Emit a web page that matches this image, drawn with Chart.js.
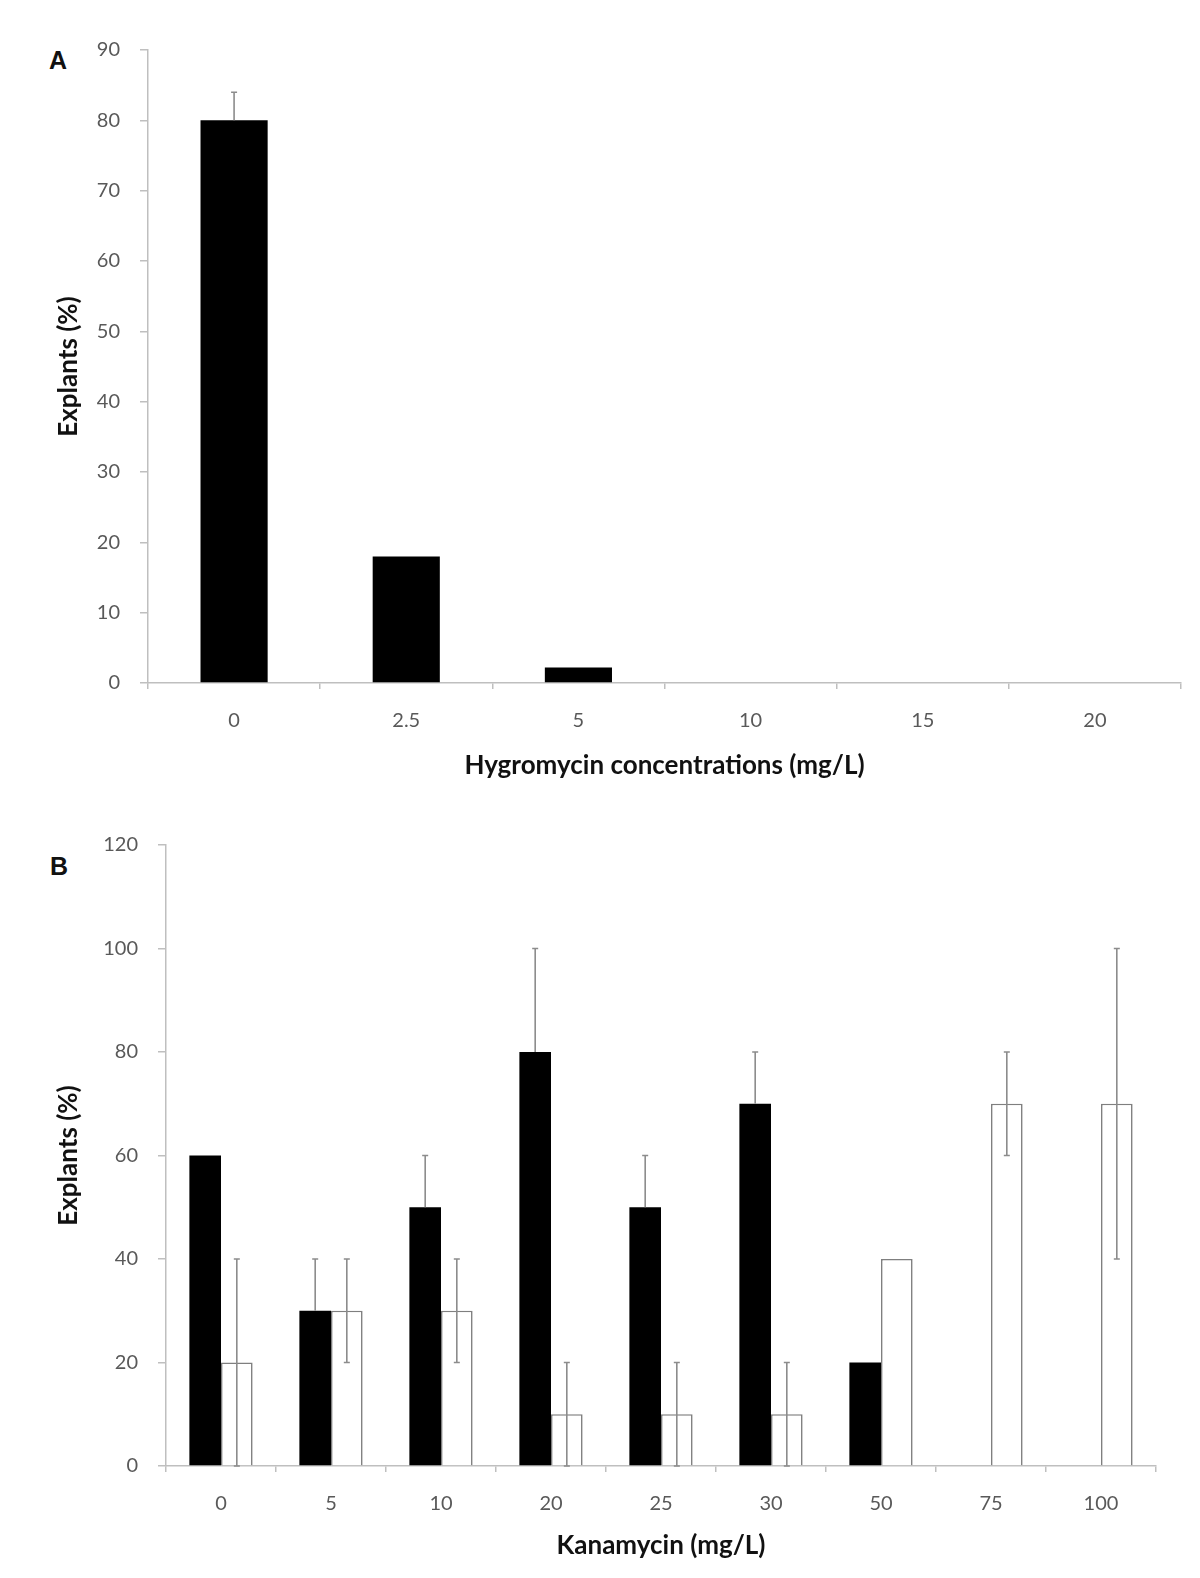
<!DOCTYPE html>
<html>
<head>
<meta charset="utf-8">
<script src="https://cdn.jsdelivr.net/npm/chart.js@4.4.1/dist/chart.umd.min.js"></script>
<style>
  body { margin: 0; background: #fff; width: 1200px; height: 1578px; position: relative; overflow: hidden; }
  .panel { position: absolute; left: 0; width: 1200px; }
  .tag { position: absolute; font-family: "Liberation Sans", Arial, sans-serif; font-weight: bold; font-size: 25px; color: #111; }
</style>
</head>
<body>
<div class="tag" style="left:49px;top:46px;">A</div>
<div class="tag" style="left:50px;top:852px;">B</div>
<div class="panel" style="top:0;height:800px;"><canvas id="chartA" width="1200" height="800"></canvas></div>
<div class="panel" style="top:800px;height:778px;"><canvas id="chartB" width="1200" height="778"></canvas></div>
<script>
// panel A - hygromycin
const hygLabels = ['0', '2.5', '5', '10', '15', '20'];
const hygValues = [80, 18, 2.2, 0, 0, 0];
const hygErrors = [4, 0, 0, 0, 0, 0];

// panel B - kanamycin, two series (black / white bars)
const kanLabels = ['0', '5', '10', '20', '25', '30', '50', '75', '100'];
const kanBlack = [60, 30, 50, 80, 50, 70, 20, 0, 0];
const kanBlackErr = [0, 10, 10, 20, 10, 10, 0, 0, 0];
const kanWhite = [20, 30, 30, 10, 10, 10, 40, 70, 70];
const kanWhiteErr = [20, 10, 10, 10, 10, 10, 0, 10, 30];

const tickFont = { family: 'Lato, "Open Sans", sans-serif', size: 20 };
const titleFont = { family: 'Lato, "Open Sans", sans-serif', size: 26, weight: 'bold' };
const axisGrey = '#bfbfbf';

// draws the error bars on top of the bars
const errorBars = {
  id: 'errorBars',
  afterDatasetsDraw(chart) {
    const ctx = chart.ctx;
    const yScale = chart.scales.y;
    chart.data.datasets.forEach((ds, i) => {
      if (!ds.errors) return;
      const meta = chart.getDatasetMeta(i);
      meta.data.forEach((bar, j) => {
        const e = ds.errors[j];
        if (!e) return;
        const v = ds.data[j];
        const yTop = yScale.getPixelForValue(v + e);
        const yBot = ds.plusOnly ? yScale.getPixelForValue(v) : yScale.getPixelForValue(Math.max(v - e, 0));
        ctx.save();
        ctx.strokeStyle = '#8c8c8c';
        ctx.lineWidth = 1.6;
        ctx.beginPath();
        ctx.moveTo(bar.x, yTop);
        ctx.lineTo(bar.x, yBot);
        ctx.moveTo(bar.x - 3, yTop);
        ctx.lineTo(bar.x + 3, yTop);
        if (!ds.plusOnly) {
          ctx.moveTo(bar.x - 3, yBot);
          ctx.lineTo(bar.x + 3, yBot);
        }
        ctx.stroke();
        ctx.restore();
      });
    });
  }
};

function makeScales(yMax, yStep, yWidth, xHeight, xTitle, titlePadBottom) {
  return {
    x: {
      grid: { drawOnChartArea: false, drawTicks: true, tickLength: 6, color: axisGrey, lineWidth: 1.5 },
      border: { color: axisGrey, width: 1.5 },
      ticks: { font: tickFont, color: '#595959', padding: 20, maxRotation: 0 },
      title: { display: true, text: xTitle, font: titleFont, color: '#111', padding: { top: 0, bottom: titlePadBottom } },
      afterFit(scale) { scale.height = xHeight; }
    },
    y: {
      min: 0, max: yMax,
      grid: { drawOnChartArea: false, drawTicks: true, tickLength: 8, color: axisGrey, lineWidth: 1.5 },
      border: { color: axisGrey, width: 1.5 },
      ticks: { stepSize: yStep, font: tickFont, color: '#595959', padding: 20 },
      title: { display: true, text: 'Explants (%)', font: titleFont, color: '#111', padding: { top: 53, bottom: 0 } },
      afterFit(scale) { scale.width = yWidth; }
    }
  };
}

new Chart(document.getElementById('chartA'), {
  type: 'bar',
  data: {
    labels: hygLabels,
    datasets: [{
      data: hygValues,
      errors: hygErrors,
      plusOnly: true,
      backgroundColor: '#000',
      borderWidth: 0,
      barPercentage: 1,
      categoryPercentage: 0.39
    }]
  },
  options: {
    responsive: false,
    animation: false,
    layout: { padding: { top: 50, left: 0, right: 19, bottom: 0 } },
    plugins: { legend: { display: false }, tooltip: { enabled: false } },
    scales: makeScales(90, 10, 148, 117, 'Hygromycin concentrations (mg/L)', 19)
  },
  plugins: [errorBars]
});

new Chart(document.getElementById('chartB'), {
  type: 'bar',
  data: {
    labels: kanLabels,
    datasets: [{
      data: kanBlack,
      errors: kanBlackErr,
      plusOnly: true,
      backgroundColor: '#000',
      borderWidth: 0,
      barPercentage: 1,
      categoryPercentage: 0.575
    }, {
      data: kanWhite,
      errors: kanWhiteErr,
      plusOnly: false,
      backgroundColor: '#fff',
      borderColor: '#7f7f7f',
      borderWidth: 1.6,
      barPercentage: 1,
      categoryPercentage: 0.575
    }]
  },
  options: {
    responsive: false,
    animation: false,
    layout: { padding: { top: 45, left: 0, right: 44, bottom: 0 } },
    plugins: { legend: { display: false }, tooltip: { enabled: false } },
    scales: makeScales(120, 20, 166, 112, 'Kanamycin (mg/L)', 17)
  },
  plugins: [errorBars]
});
</script>
</body>
</html>
